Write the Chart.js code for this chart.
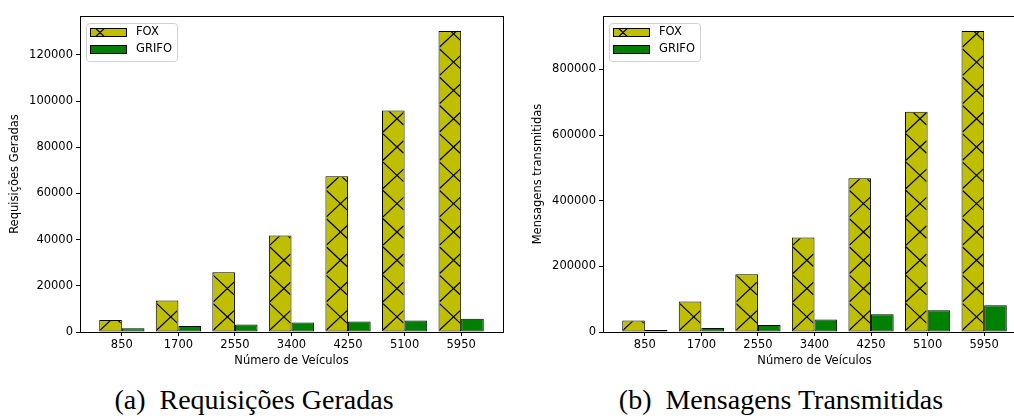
<!DOCTYPE html>
<html>
<head>
<meta charset="utf-8">
<script src="https://cdn.jsdelivr.net/npm/chart.js@4.4.0/dist/chart.umd.min.js"></script>
<style>
  html, body { margin: 0; padding: 0; background: #fff; }
  #page { position: relative; width: 1014px; height: 419px; overflow: hidden; }
  .panel { position: absolute; top: 0; height: 375px; }
  .caption { position: absolute; top: 384px; width: 420px; text-align: center;
             font-family: 'Liberation Serif', 'DejaVu Serif', serif; font-size: 28px;
             line-height: 32px; color: #000; white-space: pre; }
</style>
</head>
<body>
<div id="page">
  <div class="panel" style="left:0;width:510px"><canvas id="chartA"></canvas></div>
  <div class="panel" style="left:523px;width:510px"><canvas id="chartB"></canvas></div>
  <div class="caption" style="left:44px">(a)  Requisições Geradas</div>
  <div class="caption" style="left:571px">(b)  Mensagens Transmitidas</div>
</div>
<script>
    'use strict';

    // dados
    const veiculos = ['850', '1700', '2550', '3400', '4250', '5100', '5950'];
    const foxRequisicoes = [5200, 13600, 25900, 41800, 67400, 95900, 130300];
    const grifoRequisicoes = [1600, 2600, 3300, 4100, 4600, 5000, 5700];
    const foxMensagens = [34800, 92700, 175900, 287800, 468600, 670800, 916800];
    const grifoMensagens = [6100, 12200, 21300, 37800, 54000, 66200, 81400];
    const ticksRequisicoes = [0, 20000, 40000, 60000, 80000, 100000, 120000];
    const ticksMensagens = [0, 200000, 400000, 600000, 800000];

    const FOX_COLOR = '#bfbf00';
    const GRIFO_COLOR = '#008000';
    const HATCH_W = 30;
    const HATCH_H = 28.3;

    Chart.defaults.font.family = "'DejaVu Sans', sans-serif";
    Chart.defaults.font.size = 11.5;
    Chart.defaults.color = '#000';

    // hachura "x" dentro de um retângulo
    function drawHatch(ctx, l, t, r, b, ax, ay) {
        const s = HATCH_H / HATCH_W;
        ctx.save();
        ctx.beginPath();
        ctx.rect(l, t, r - l, b - t);
        ctx.clip();
        ctx.beginPath();
        const jMin = Math.floor((ay - b) / HATCH_H) - 4;
        const jMax = Math.ceil((ay - t) / HATCH_H) + 4;
        for (let j = jMin; j <= jMax; j++) {
            const y0 = ay - j * HATCH_H;
            ctx.moveTo(l, y0 - s * (l - ax));
            ctx.lineTo(r, y0 - s * (r - ax));
            ctx.moveTo(l, y0 + s * (l - ax));
            ctx.lineTo(r, y0 + s * (r - ax));
        }
        ctx.strokeStyle = '#000';
        ctx.lineWidth = 1.2;
        ctx.stroke();
        ctx.restore();
    }

    const hatchPlugin = {
        id: 'hatch',
        afterDatasetsDraw(chart) {
            const ctx = chart.ctx;
            const ay = chart.chartArea.bottom - 1;
            chart.data.datasets.forEach((ds, di) => {
                if (!ds.hatched) return;
                chart.getDatasetMeta(di).data.forEach((bar) => {
                    const p = bar.getProps(['x', 'y', 'base', 'width'], true);
                    const l = p.x - p.width / 2;
                    const r = p.x + p.width / 2;
                    const t = Math.min(p.y, p.base);
                    const b = Math.max(p.y, p.base);
                    drawHatch(ctx, l + 1, t + 1, r - 1, b - 1, l, ay);
                });
            });
        }
    };

    // moldura completa do eixo (topo e direita)
    const framePlugin = {
        id: 'frame',
        afterDatasetsDraw(chart) {
            const { ctx, chartArea: ca } = chart;
            ctx.save();
            ctx.strokeStyle = '#000';
            ctx.lineWidth = 1;
            ctx.strokeRect(Math.round(ca.left) + 0.5, Math.round(ca.top) + 0.5,
                Math.round(ca.right - ca.left), Math.round(ca.bottom - ca.top));
            ctx.restore();
        }
    };

    // legenda dentro da área, canto superior esquerdo
    const legendPlugin = {
        id: 'boxLegend',
        afterDraw(chart) {
            const { ctx, chartArea: ca } = chart;
            const bx = ca.left + 6, by = ca.top + 7, bw = 91, bh = 38;
            ctx.save();
            ctx.beginPath();
            ctx.roundRect(bx + 0.5, by + 0.5, bw, bh, 3);
            ctx.fillStyle = 'rgba(255,255,255,0.8)';
            ctx.fill();
            ctx.strokeStyle = '#d0d0d0';
            ctx.lineWidth = 1;
            ctx.stroke();
            chart.data.datasets.forEach((ds, i) => {
                const cy = by + 9.5 + i * 17;
                const hx = ca.left + 10, hw = 37, hh = 9;
                const hy = Math.round(cy - hh / 2);
                ctx.fillStyle = ds.backgroundColor;
                ctx.fillRect(hx, hy, hw, hh);
                if (ds.hatched) {
                    drawHatch(ctx, hx, hy, hx + hw, hy + hh, hx + 10, hy + hh / 2 + HATCH_H);
                }
                ctx.strokeStyle = '#000';
                ctx.strokeRect(hx + 0.5, hy + 0.5, hw - 1, hh - 1);
                ctx.fillStyle = '#000';
                ctx.font = "11.5px 'DejaVu Sans'";
                ctx.textBaseline = 'middle';
                ctx.textAlign = 'left';
                ctx.fillText(ds.label, ca.left + 56, cy);
            });
            ctx.restore();
        }
    };

    function buildChart(id, fox, grifo, yTicks, yTitle, padRight) {
        const yMax = Math.max(...fox, ...grifo) * 1.05;
        const toPoints = (arr) => arr.map((v, i) => ({ x: i, y: v }));
        const barStyle = {
            borderColor: '#000',
            borderWidth: 1,
            borderSkipped: false,
            categoryPercentage: 0.8,
            barPercentage: 1.0
        };
        return new Chart(document.getElementById(id), {
            type: 'bar',
            data: {
                datasets: [
                    Object.assign({ label: 'FOX', data: toPoints(fox), backgroundColor: FOX_COLOR, hatched: true }, barStyle),
                    Object.assign({ label: 'GRIFO', data: toPoints(grifo), backgroundColor: GRIFO_COLOR }, barStyle)
                ]
            },
            options: {
                responsive: true,
                maintainAspectRatio: false,
                animation: false,
                layout: { padding: { top: 16, right: padRight, bottom: 7, left: 0 } },
                plugins: {
                    legend: { display: false },
                    tooltip: { enabled: false }
                },
                scales: {
                    x: {
                        type: 'linear',
                        min: -0.74,
                        max: veiculos.length - 1 + 0.74,
                        offset: false,
                        grid: { display: true, drawOnChartArea: false, drawTicks: true, tickLength: 4, color: '#000', offset: false },
                        border: { display: true, color: '#000', width: 1 },
                        ticks: {
                            padding: 2,
                            maxRotation: 0,
                            callback: (v) => veiculos[v] !== undefined ? veiculos[v] : ''
                        },
                        afterBuildTicks: (axis) => {
                            axis.ticks = veiculos.map((_, i) => ({ value: i }));
                        },
                        afterFit: (axis) => { axis.height = 36; },
                        title: { display: true, text: 'Número de Veículos', padding: { top: 0, bottom: 0 } }
                    },
                    y: {
                        min: 0,
                        max: yMax,
                        grid: { display: true, drawOnChartArea: false, drawTicks: true, tickLength: 4, color: '#000' },
                        border: { display: true, color: '#000', width: 1 },
                        ticks: { padding: 3, callback: (v) => String(v) },
                        afterBuildTicks: (axis) => {
                            axis.ticks = yTicks.map((v) => ({ value: v }));
                        },
                        afterFit: (axis) => { axis.width = 80; },
                        title: { display: true, text: yTitle, padding: { top: 8, bottom: 0 } }
                    }
                }
            },
            plugins: [hatchPlugin, framePlugin, legendPlugin]
        });
    }

    buildChart('chartA', foxRequisicoes, grifoRequisicoes, ticksRequisicoes, 'Requisições Geradas', 7);
    buildChart('chartB', foxMensagens, grifoMensagens, ticksMensagens, 'Mensagens transmitidas', 7);
</script>
</body>
</html>
